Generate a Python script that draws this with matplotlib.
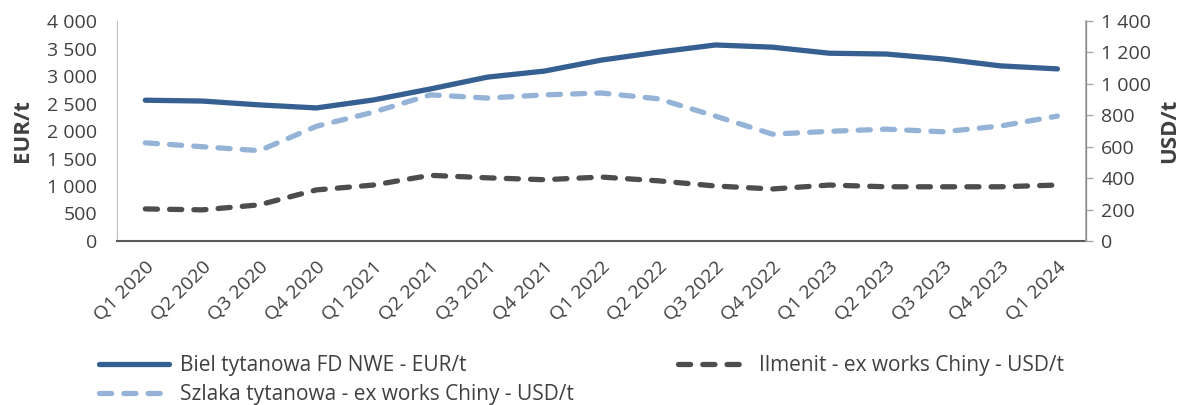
import matplotlib
matplotlib.use("Agg")
import matplotlib.pyplot as plt
from matplotlib.ticker import FuncFormatter, MultipleLocator

plt.rcParams['font.family'] = ['Open Sans', 'DejaVu Sans']

# dane kwartalne
kwartaly = ['Q1 2020', 'Q2 2020', 'Q3 2020', 'Q4 2020',
            'Q1 2021', 'Q2 2021', 'Q3 2021', 'Q4 2021',
            'Q1 2022', 'Q2 2022', 'Q3 2022', 'Q4 2022',
            'Q1 2023', 'Q2 2023', 'Q3 2023', 'Q4 2023', 'Q1 2024']
biel_eur = [2560, 2545, 2475, 2420, 2565, 2765, 2980, 3090,
            3290, 3435, 3565, 3525, 3415, 3400, 3310, 3185, 3130]
szlaka_usd = [625, 600, 575, 730, 820, 930, 910, 930,
              942, 905, 795, 680, 698, 712, 695, 732, 795]
ilmenit_usd = [204, 198, 230, 325, 356, 418, 402, 390,
               407, 383, 350, 331, 356, 345, 345, 345, 356]

def spacja(v, pos):
    return f'{int(v):,}'.replace(',', ' ')

fig = plt.figure(figsize=(11.92, 4.05), dpi=100)
ax = fig.add_axes([0.098, 0.405, 0.813, 0.543])
ax2 = ax.twinx()

x = list(range(len(kwartaly)))
tekst = '#404040'

l1, = ax.plot(x, biel_eur, color='#366092', linewidth=3.8,
              solid_capstyle='round', label='Biel tytanowa FD NWE - EUR/t')
l2, = ax2.plot(x, szlaka_usd, color='#95B3D7', linewidth=3.8,
               dashes=(2.3, 2.3), dash_capstyle='round',
               label='Szlaka tytanowa - ex works Chiny - USD/t')
l3, = ax2.plot(x, ilmenit_usd, color='#4D4D4D', linewidth=3.8,
               dashes=(2.3, 2.3), dash_capstyle='round',
               label='Ilmenit - ex works Chiny - USD/t')

ax.set_xlim(-0.5, len(kwartaly) - 0.5)
ax.set_ylim(0, 4000)
ax2.set_ylim(0, 1400)
ax.yaxis.set_major_locator(MultipleLocator(500))
ax2.yaxis.set_major_locator(MultipleLocator(200))
ax.yaxis.set_major_formatter(FuncFormatter(spacja))
ax2.yaxis.set_major_formatter(FuncFormatter(spacja))

ax.set_xticks(x)
ax.set_xticklabels(kwartaly, rotation=45, ha='right', rotation_mode='anchor')
ax.tick_params(axis='x', length=0, pad=12, labelsize=14, labelcolor=tekst)
ax.tick_params(axis='y', length=0, pad=14, labelsize=14, labelcolor=tekst)
ax2.tick_params(axis='y', length=5, width=1, color='#A6A6A6', pad=6,
                labelsize=14, labelcolor=tekst)

for a in (ax, ax2):
    a.spines['top'].set_visible(False)
ax.spines['left'].set_color('#BFBFBF')
ax.spines['bottom'].set_color('#595959')
ax.spines['bottom'].set_linewidth(1.5)
ax2.spines['left'].set_visible(False)
ax2.spines['bottom'].set_visible(False)
ax2.spines['right'].set_color('#A6A6A6')
ax2.spines['right'].set_linewidth(1.2)

ax.set_ylabel('EUR/t', fontsize=16, fontweight='bold', color=tekst, labelpad=10)
ax2.set_ylabel('USD/t', fontsize=16, fontweight='bold', color=tekst, labelpad=6)

fig.legend(handles=[l1, l2, l3], ncol=2, loc='upper left',
           bbox_to_anchor=(0.067, 0.17), frameon=False, fontsize=15,
           handlelength=3.4, handletextpad=0.5, columnspacing=5.0,
           labelspacing=0.4, labelcolor=tekst)

fig.savefig('out.png', dpi=100)
